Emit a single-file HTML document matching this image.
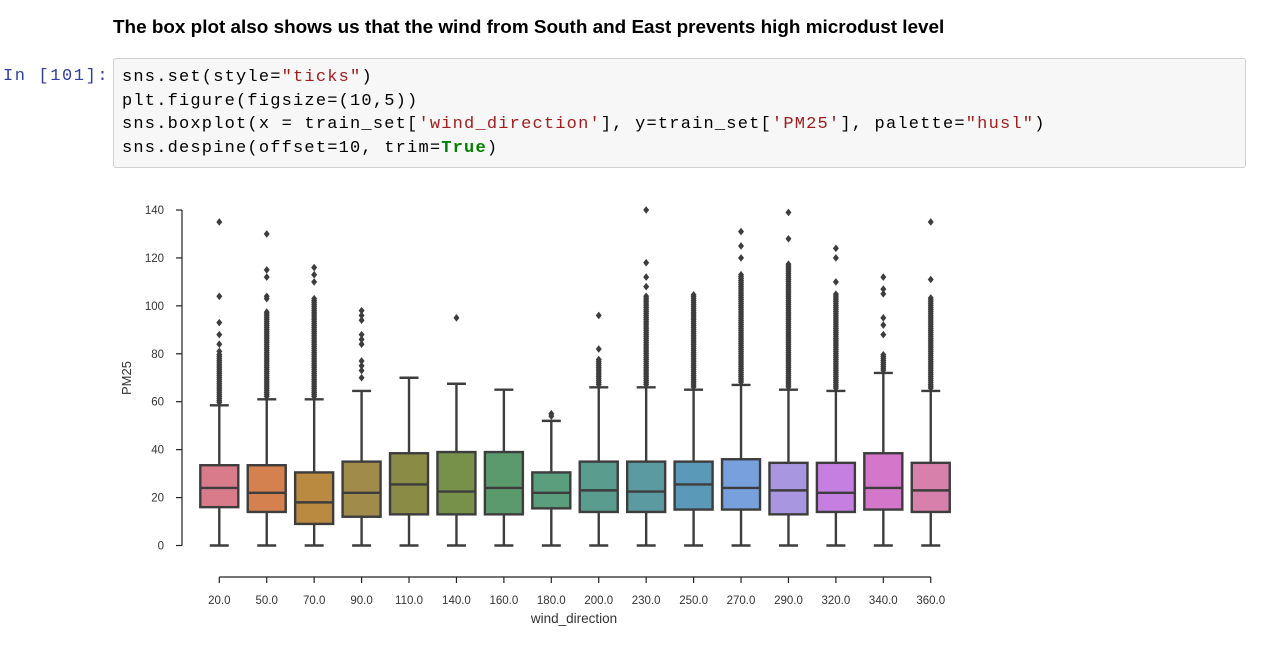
<!DOCTYPE html>
<html><head><meta charset="utf-8">
<style>
body{margin:0;width:1280px;height:665px;background:#fff;position:relative;overflow:hidden;font-family:"Liberation Sans",sans-serif}
#title{position:absolute;left:113px;top:17px;font-weight:bold;font-size:18.9px;color:#000;white-space:nowrap}
#prompt{position:absolute;left:3px;top:67px;font-family:"Liberation Mono",monospace;font-size:17px;letter-spacing:1.6px;color:#303f9f}
#cell{position:absolute;left:113px;top:58px;width:1131px;height:108px;background:#f7f7f7;border:1px solid #cfcfcf;border-radius:3px}
#code{position:absolute;left:8px;top:7px;margin:0;font-family:"Liberation Mono",monospace;font-size:17px;letter-spacing:1.2px;line-height:23.5px;color:#000}
.s{color:#a11c1c}.k{color:#008000;font-weight:bold}
svg{position:absolute;left:0;top:0}
</style></head><body>
<div id="title">The box plot also shows us that the wind from South and East prevents high microdust level</div>
<div id="prompt">In [101]:</div>
<div id="cell"><pre id="code">sns.set(style=<span class="s">"ticks"</span>)
plt.figure(figsize=(10,5))
sns.boxplot(x = train_set[<span class="s">'wind_direction'</span>], y=train_set[<span class="s">'PM25'</span>], palette=<span class="s">"husl"</span>)
sns.despine(offset=10, trim=<span class="k">True</span>)</pre></div>
<svg id="chart" width="1280" height="665"></svg>
<script>
const categories=["20.0","50.0","70.0","90.0","110.0","140.0","160.0","180.0","200.0","230.0","250.0","270.0","290.0","320.0","340.0","360.0"];
const whiskerLow=[0,0,0,0,0,0,0,0,0,0,0,0,0,0,0,0];
const q1=[16,14,9,12,13,13,13,15.5,14,14,15,15,13,14,15,14];
const medians=[24,22,18,22,25.5,22.5,24,22,23,22.5,25.5,24,23,22,24,23];
const q3=[33.5,33.5,30.5,35,38.5,39,39,30.5,35,35,35,36,34.5,34.5,38.5,34.5];
const whiskerHigh=[58.5,61,61,64.5,70,67.5,65,52,66,66,65,67,65,64.5,72,64.5];
const denseTop=[80,98,103,0,0,0,0,0,78,104,105,113,118,105,80,104];
const extraOutliers=[[81,84,88,93,104,135],[103,104,112,115,130],[110,113,116],[70,73,75,77,84,86,88,94,96,98],[],[95],[],[54,55],[82,96],[108,112,118,140],[],[120,125,131],[128,139],[110,120,124],[88,92,95,105,107,112],[111,135]];
const colors=["#d87c8c","#d4804f","#b98a40","#a08b4a","#8a8c45","#77914a","#5a9a6c","#5a9e7e","#5a9d8f","#5a9aa0","#5a9ab8","#77a0dd","#a896e0","#c47fe0","#d477cb","#d680ab"];
const yTicks=[0,20,40,60,80,100,120,140];

const svg=document.getElementById('chart');
const NS='http://www.w3.org/2000/svg';
const y=v=>545.5-v*(335.5/140);
const x=i=>219.3+i*47.43;
const BW=38;
function mk(tag,attrs,parent){const e=document.createElementNS(NS,tag);for(const k in attrs)e.setAttribute(k,attrs[k]);(parent||svg).appendChild(e);return e;}
const G='#3d3d3d';
let ya=mk('line',{x1:182,x2:182,y1:y(0),y2:y(140),stroke:'#222','stroke-width':1.2});


yTicks.forEach(t=>{
 mk('line',{x1:176,x2:182,y1:y(t),y2:y(t),stroke:'#222','stroke-width':1.2});
 const tx=mk('text',{x:164,y:y(t)+4,'text-anchor':'end','font-size':11.5,fill:'#333','font-family':'Liberation Sans, sans-serif'});
 tx.textContent=t;
 
 
});
const yl=mk('text',{transform:'translate(131,378) rotate(-90)','text-anchor':'middle','font-size':13,fill:'#333','font-family':'Liberation Sans, sans-serif'});
yl.textContent='PM25';


const xa=mk('line',{x1:x(0),x2:x(categories.length-1),y1:577,y2:577,stroke:'#222','stroke-width':1.2});


categories.forEach((c,i)=>{
 mk('line',{x1:x(i),x2:x(i),y1:577,y2:583,stroke:'#222','stroke-width':1.2});
 const tx=mk('text',{x:x(i),y:604,'text-anchor':'middle','font-size':11.5,fill:'#333','font-family':'Liberation Sans, sans-serif'});
 tx.textContent=c;
 
 
});
const xl=mk('text',{x:574,y:623,'text-anchor':'middle','font-size':13.5,fill:'#333','font-family':'Liberation Sans, sans-serif'});
xl.textContent='wind_direction';


function diamond(cx,cy,g){mk('path',{d:`M${cx} ${cy-3.8}L${cx+3} ${cy}L${cx} ${cy+3.8}L${cx-3} ${cy}Z`,fill:G},g);}
categories.forEach((c,i)=>{
 const g=mk('g',{});
 
 
 const cx=x(i);
 mk('line',{x1:cx,x2:cx,y1:y(whiskerLow[i]),y2:y(q1[i]),stroke:G,'stroke-width':2.4},g);
 mk('line',{x1:cx,x2:cx,y1:y(q3[i]),y2:y(whiskerHigh[i]),stroke:G,'stroke-width':2.4},g);
 mk('line',{x1:cx-BW/4,x2:cx+BW/4,y1:y(whiskerLow[i]),y2:y(whiskerLow[i]),stroke:G,'stroke-width':2.4},g);
 mk('line',{x1:cx-BW/4,x2:cx+BW/4,y1:y(whiskerHigh[i]),y2:y(whiskerHigh[i]),stroke:G,'stroke-width':2.4},g);
 mk('rect',{x:cx-BW/2,y:y(q3[i]),width:BW,height:y(q1[i])-y(q3[i]),fill:colors[i],stroke:G,'stroke-width':2.4},g);
 mk('line',{x1:cx-BW/2,x2:cx+BW/2,y1:y(medians[i]),y2:y(medians[i]),stroke:G,'stroke-width':2.4},g);
 if(denseTop[i]>0){for(let v=whiskerHigh[i]+1.2;v<=denseTop[i];v+=0.8)diamond(cx,y(v),g);}
 extraOutliers[i].forEach(v=>diamond(cx,y(v),g));
});
</script>
</body></html>
